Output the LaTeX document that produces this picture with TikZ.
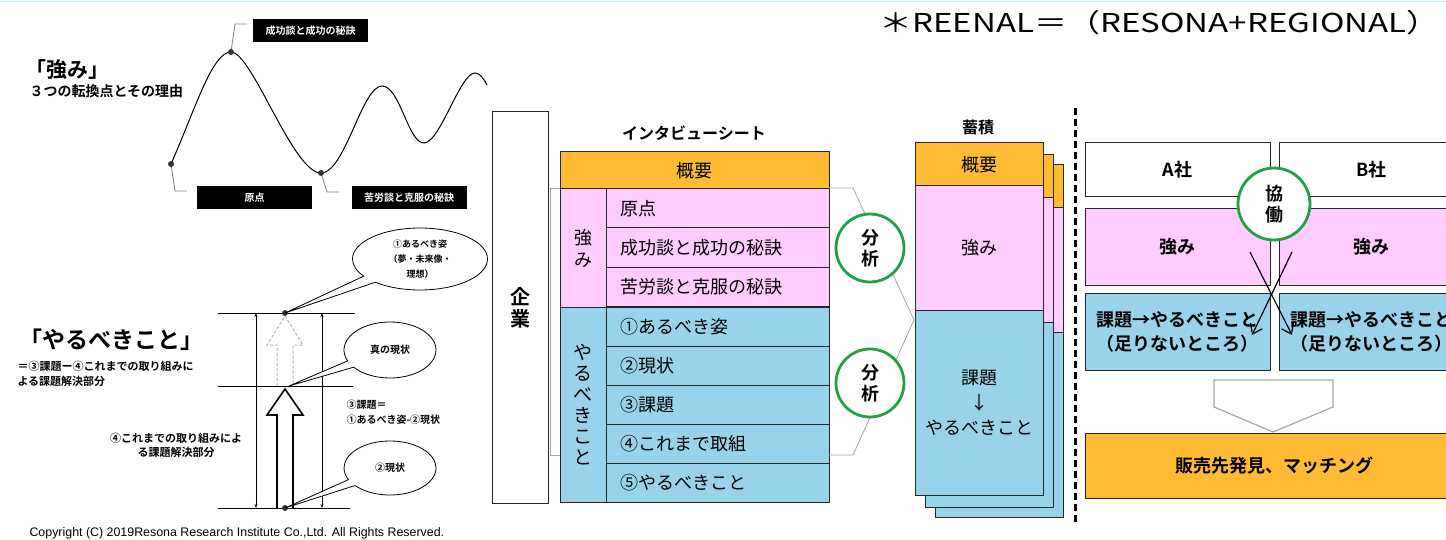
\documentclass[tikz,border=0pt]{standalone}
\usepackage{fontspec}
\setmainfont{Noto Sans CJK JP}[BoldFont={Noto Sans CJK JP Bold}]
\newfontfamily\latinfont{Liberation Sans}
\usetikzlibrary{shapes.callouts,arrows.meta}
\newcommand{\fsz}[2]{\fontsize{#1}{#2}\selectfont}
\definecolor{sheetorange}{RGB}{255,187,51}
\definecolor{sheetpink}{RGB}{255,204,255}
\definecolor{sheetblue}{RGB}{153,211,235}
\definecolor{ringgreen}{RGB}{34,160,68}
\tikzstyle{cell}=[draw=black!85,line width=1pt,inner sep=0pt]
\tikzstyle{frame}=[draw=black!85,line width=1pt]
\tikzstyle{row}=[cell,anchor=west,minimum height=39pt,text width=195pt,inner xsep=14pt,align=left,font=\fsz{18}{20}]
\tikzstyle{ring}=[circle,draw=ringgreen,line width=2.8pt,fill=white,minimum size=68pt,inner sep=0pt,align=center,font=\bfseries\fsz{18}{21}]
\tikzstyle{blacktag}=[fill=black,text=white,minimum width=115pt,minimum height=23pt,inner sep=0pt,font=\bfseries\fsz{10}{11}]
\tikzstyle{bubble}=[ellipse callout,draw,line width=0.8pt,fill=white,inner sep=0pt,align=center,font=\bfseries\fsz{9}{15}]
\tikzstyle{bigdot}=[circle,fill=black!80,minimum size=6pt,inner sep=0pt]
\tikzstyle{leader}=[gray,line width=0.8pt]
\tikzstyle{bracket}=[gray!70,line width=0.8pt]
\tikzstyle{cross}=[line width=1.2pt,-{Straight Barb[length=9pt,width=13pt]}]

\begin{document}
\begin{tikzpicture}[x=1pt,y=-1pt]
    \useasboundingbox (0,0) rectangle (1446,540);
    \clip (0,0) rectangle (1446,540);
    \draw[cyan!25,line width=1.5pt] (0,1.5) -- (1446,1.5);
    \node[anchor=west,font=\fsz{26}{28}] (reenal) at (876,23) {\scalebox{1.27}[1]{＊REENAL＝（RESONA+REGIONAL）}};

    %Strength curve
    \node[anchor=west,font=\bfseries\fsz{21}{24}] (kyomi) at (22,70) {「強み」};
    \node[anchor=west,font=\bfseries\fsz{14}{16}] (tenkan) at (26,91) {３つの転換点とその理由};
    \draw[line width=1pt] (171,164) .. controls (195,110) and (212,52) .. (231,52)
        .. controls (252,52) and (293,173) .. (321,173)
        .. controls (345,173) and (362,86) .. (382,86)
        .. controls (400,86) and (408,143) .. (424,143)
        .. controls (440,143) and (460,73) .. (475,73)
        .. controls (480,73) and (484,79) .. (487,85);
    \foreach \pos/\name in {{(171,164)/p1}, {(231,52)/p2}, {(321,173)/p3}}
    \node[bigdot] (\name) at \pos {};
    \node[blacktag] (t1) at (254.5,198) {原点};
    \node[blacktag] (t2) at (310.5,31) {成功談と成功の秘訣};
    \node[blacktag] (t3) at (409,198) {苦労談と克服の秘訣};
    \draw[leader] (p1) -- ++(4,27) -- ++(12,0);
    \draw[leader] (p2) -- ++(4,-28) -- ++(12,0);
    \draw[leader] (p3) -- ++(6,19) -- ++(12,0);

    %To-do gap
    \node[anchor=west,font=\bfseries\fsz{23}{26}] (yaru) at (16,340) {「やるべきこと」};
    \node[anchor=west,align=left,font=\bfseries\fsz{11}{15}] (yarunote) at (14,374) {＝③課題ー④これまでの取り組みに\\よる課題解決部分};
    \foreach \y/\xe in {313/355, 386/353, 508/350}
    \draw[line width=1pt] (218,\y) -- (\xe,\y);
    \foreach \x in {256,322}
    \draw[line width=0.8pt,{Stealth[length=4pt,width=3pt]}-{Stealth[length=4pt,width=3pt]}] (\x,313) -- (\x,508);
    \draw[gray!60,densely dashed,line width=1pt] (277,386) -- (277,345) -- (267,345) -- (285,316) -- (303,345) -- (293,345) -- (293,386);
    \draw[line width=1.6pt,fill=white] (277,508) -- (277,415) -- (267,415) -- (285,389) -- (303,415) -- (293,415) -- (293,508);
    \node[bigdot] (goal) at (285,313) {};
    \node[bigdot] (now) at (285,508) {};
    \coordinate (truenow) at (289,386);
    \node[bubble,minimum width=135pt,minimum height=62pt,callout absolute pointer={(goal)}] (b1) at (420,259) {①あるべき姿\\（夢・未来像・\\理想）};
    \node[bubble,minimum width=92pt,minimum height=56pt,callout absolute pointer={(truenow)},font=\bfseries\fsz{10}{12}] (b2) at (390,350) {真の現状};
    \node[bubble,minimum width=92pt,minimum height=54pt,callout absolute pointer={(now)},font=\bfseries\fsz{10}{12}] (b3) at (390,468) {②現状};
    \node[anchor=west,align=left,font=\bfseries\fsz{10}{15}] (kadai) at (343,412) {③課題＝\\①あるべき姿-②現状};
    \node[align=center,font=\bfseries\fsz{11}{14}] (torikumi) at (176,445) {④これまでの取り組みによ\\る課題解決部分};
    \node[anchor=west,font=\latinfont\fsz{12.4}{13}] (copy) at (26,533) {Copyright (C) 2019Resona Research Institute Co.,Ltd. All Rights Reserved.};

    %Interview sheet
    \node[cell,minimum width=56pt,minimum height=391pt,align=center,font=\bfseries\fsz{20}{22}] (company) at (520,307.5) {企\\業};
    \node[font=\bfseries\fsz{16}{18}] (sheet) at (694,133) {インタビューシート};
    \node[cell,fill=sheetorange,minimum width=269pt,minimum height=37pt,font=\fsz{18}{20}] (gaiyo) at (694.5,170.5) {概要};
    \node[cell,fill=sheetpink,minimum width=46pt,minimum height=118pt,align=center,font=\fsz{18}{22}] (strcol) at (583,248) {強\\み};
    \node[cell,fill=sheetblue,minimum width=46pt,minimum height=195pt,align=center,font=\fsz{19}{21}] (todocol) at (583,404.5) {や\\る\\べ\\き\\こ\\と};
    \foreach \y/\name/\txt in {208.5/r1/原点, 247.5/r2/成功談と成功の秘訣, 286.5/r3/苦労談と克服の秘訣}
    \node[row,fill=sheetpink] (\name) at (606,\y) {\txt};
    \foreach \y/\name/\txt in {326.5/r4/①あるべき姿, 365.5/r5/②現状, 404.5/r6/③課題,
                               443.5/r7/④これまで取組, 482.5/r8/⑤やるべきこと}
    \node[row,fill=sheetblue] (\name) at (606,\y) {\txt};
    \coordinate (lt) at (560,188);
    \coordinate (lb) at (560,455);
    \draw[bracket] (lt) -- ++(-10,0) |- (lb);
    \coordinate (rt) at (829,188);
    \coordinate (rb) at (829,455);
    \coordinate (meet) at (914,320);
    \draw[bracket] (rt) -- ++(24,0) -- (meet) -- (853,455) -- (rb);
    \node[ring] (bunseki1) at (870,248) {分\\析};
    \node[ring] (bunseki2) at (870,383) {分\\析};

    %Stock
    \node[font=\bfseries\fsz{16}{18}] (chikuseki) at (978,127) {蓄積};
    \foreach \dx/\dy in {20/22, 10/12}{
        \filldraw[frame,fill=sheetorange] (915+\dx,143+\dy) rectangle ++(128,43);
        \filldraw[frame,fill=sheetpink] (915+\dx,186+\dy) rectangle ++(128,124);
        \filldraw[frame,fill=sheetblue] (915+\dx,310+\dy) rectangle ++(128,185);
    }
    \node[cell,fill=sheetorange,minimum width=128pt,minimum height=43pt,font=\fsz{18}{20}] (stgaiyo) at (979,164.5) {概要};
    \node[cell,fill=sheetpink,minimum width=128pt,minimum height=124pt,font=\fsz{18}{20}] (ststr) at (979,248) {強み};
    \node[cell,fill=sheetblue,minimum width=128pt,minimum height=185pt,align=center,font=\fsz{18}{25}] (sttodo) at (979,402.5) {課題\\↓\\やるべきこと};
    \draw[line width=3pt,dash pattern=on 7pt off 4pt] (1075,108) -- (1075,523);

    %Matching
    \foreach \x/\name/\co in {1177.5/a/A社, 1371.5/b/B社}{
        \node[cell,minimum width=185pt,minimum height=54pt,font=\bfseries\fsz{18}{20}] (co\name) at (\x,170) {\co};
        \node[cell,fill=sheetpink,minimum width=185pt,minimum height=76pt,font=\bfseries\fsz{18}{20}] (str\name) at (\x,247) {強み};
        \node[cell,fill=sheetblue,minimum width=185pt,minimum height=77pt,align=center,font=\bfseries\fsz{18}{24}] (todo\name) at (\x,331.5) {課題→やるべきこと\\（足りないところ）};
    }
    \node[ring,minimum size=72pt] (kyodo) at (1274,204) {協\\働};
    \coordinate (xa1) at (1250,252);
    \coordinate (xa2) at (1252,335);
    \coordinate (xb1) at (1292,252);
    \coordinate (xb2) at (1292,335);
    \draw[cross] (xa1) -- (xb2);
    \draw[cross] (xb1) -- (xa2);
    \draw[gray!70,line width=1.2pt,fill=white] (1214,380) -- (1333,380) -- (1333,407) -- (1273,432) -- (1214,407) -- cycle;
    \node[cell,fill=sheetorange,minimum width=379pt,minimum height=65pt,font=\bfseries\fsz{18}{20}] (match) at (1274.5,465.5) {販売先発見、マッチング};
\end{tikzpicture}
\end{document}
